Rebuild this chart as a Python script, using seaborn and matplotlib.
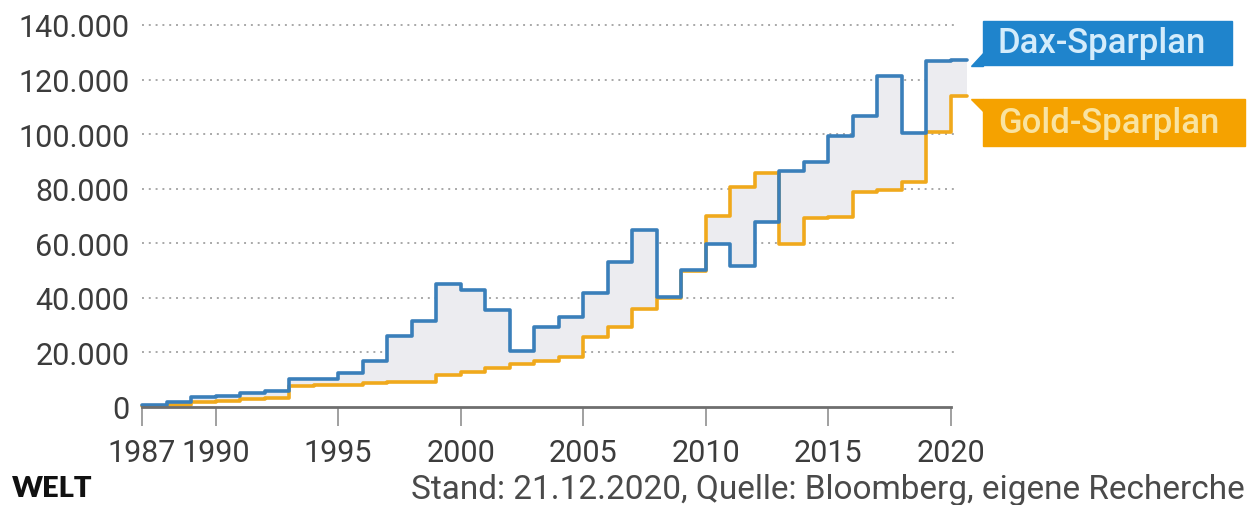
import numpy as np
import pandas as pd
import seaborn as sns
import matplotlib.pyplot as plt
from matplotlib.patches import Polygon
from matplotlib.ticker import FuncFormatter

years = list(range(1987, 2021))
end_year = 2020.65  # data runs until Dec 2020

dax = [600, 1800, 3800, 3900, 5200, 5800, 10300, 10200, 12500, 17000,
       26000, 31600, 45000, 43000, 35700, 20600, 29300, 33000, 41800, 53100,
       65000, 40300, 50200, 59700, 51800, 67900, 86600, 89700, 99400, 106800,
       121200, 100300, 126900, 127000]
gold = [300, 900, 2000, 2300, 3000, 3300, 7700, 7900, 8000, 8800,
        9000, 9200, 11700, 12800, 14300, 15800, 17000, 18300, 25600, 29300,
        35900, 39800, 50000, 70100, 80500, 85800, 59700, 69200, 69500, 78900,
        79500, 82400, 100600, 114100]

y_ticks = [0, 20000, 40000, 60000, 80000, 100000, 120000, 140000]
x_ticks = [1987, 1990, 1995, 2000, 2005, 2010, 2015, 2020]

dax_color = '#3a7fba'
gold_color = '#f0a91c'
text_color = '#3c3c3c'

df = pd.DataFrame({'year': years + [end_year],
                   'dax': dax + [dax[-1]],
                   'gold': gold + [gold[-1]]})

sns.set_style('white')
plt.rcParams['font.family'] = ['Roboto', 'DejaVu Sans']

fig = plt.figure(figsize=(12.49, 5.06), dpi=100)
ax = fig.add_axes([142 / 1249, 1 - 408 / 506, 815 / 1249, 387.5 / 506])

ax.fill_between(df['year'], df['dax'], df['gold'], step='post',
                color='#ececf0', linewidth=0, clip_on=False, zorder=1)
sns.lineplot(data=df, x='year', y='gold', ax=ax, color=gold_color,
             linewidth=2.6, drawstyle='steps-post', clip_on=False, zorder=3)
sns.lineplot(data=df, x='year', y='dax', ax=ax, color=dax_color,
             linewidth=2.6, drawstyle='steps-post', clip_on=False, zorder=4)

ax.set_xlim(1987, 2020.25)
ax.set_ylim(0, 142000)
ax.set_xticks(x_ticks)
ax.set_yticks(y_ticks)
ax.yaxis.set_major_formatter(FuncFormatter(lambda v, p: f'{int(v):,}'.replace(',', '.')))
ax.set_xlabel('')
ax.set_ylabel('')

ax.grid(axis='y', color='#a8a8a8', linestyle=(0, (1, 2.5)), linewidth=1.4, zorder=0)
ax.grid(axis='x', visible=False)
ax.yaxis.get_gridlines()[0].set_visible(False)

for s in ['top', 'right', 'left']:
    ax.spines[s].set_visible(False)
ax.spines['bottom'].set_color('#6e6e6e')
ax.spines['bottom'].set_linewidth(2)
ax.spines['bottom'].set_bounds(1987, 2020)
ax.spines['bottom'].set_zorder(5)

ax.tick_params(axis='x', length=14, width=1.4, color='#a0a0a0', pad=8,
               labelsize=22, labelcolor=text_color, direction='out', bottom=True)
ax.tick_params(axis='y', length=0, pad=9, labelsize=22, labelcolor=text_color)

# labels at the line ends
def end_label(text, x0, y0, x1, y1, box, fg, tri):
    fig.patches.append(plt.Rectangle((x0 / 1249, 1 - y1 / 506), (x1 - x0) / 1249,
                                     (y1 - y0) / 506, transform=fig.transFigure,
                                     color=box, zorder=6))
    fig.patches.append(Polygon([(px / 1249, 1 - py / 506) for px, py in tri],
                               closed=True, transform=fig.transFigure,
                               color=box, zorder=6))
    fig.text((x0 + 15) / 1249, 1 - (y0 + y1) / 2 / 506, text, color=fg,
             fontsize=25, fontweight='medium', va='center', ha='left', zorder=7)

end_label('Dax-Sparplan', 983, 22, 1232, 66, '#1f84cc', '#d4ecfb',
          [(983, 54), (983, 67), (971, 67)])
end_label('Gold-Sparplan', 983, 100, 1245, 147, '#f5a200', '#f9e3a0',
          [(971, 100), (983, 100), (983, 112)])

fig.text(12 / 1249, 1 - 489 / 506, 'WELT', fontsize=21, fontweight='heavy',
         color='#111111', va='center', ha='left', family=['Lato', 'DejaVu Sans'])
fig.text(1245 / 1249, 1 - 490 / 506,
         'Stand: 21.12.2020, Quelle: Bloomberg, eigene Recherche',
         fontsize=24, color='#4a4a4a', va='center', ha='right')

fig.savefig('out.png', dpi=100)
